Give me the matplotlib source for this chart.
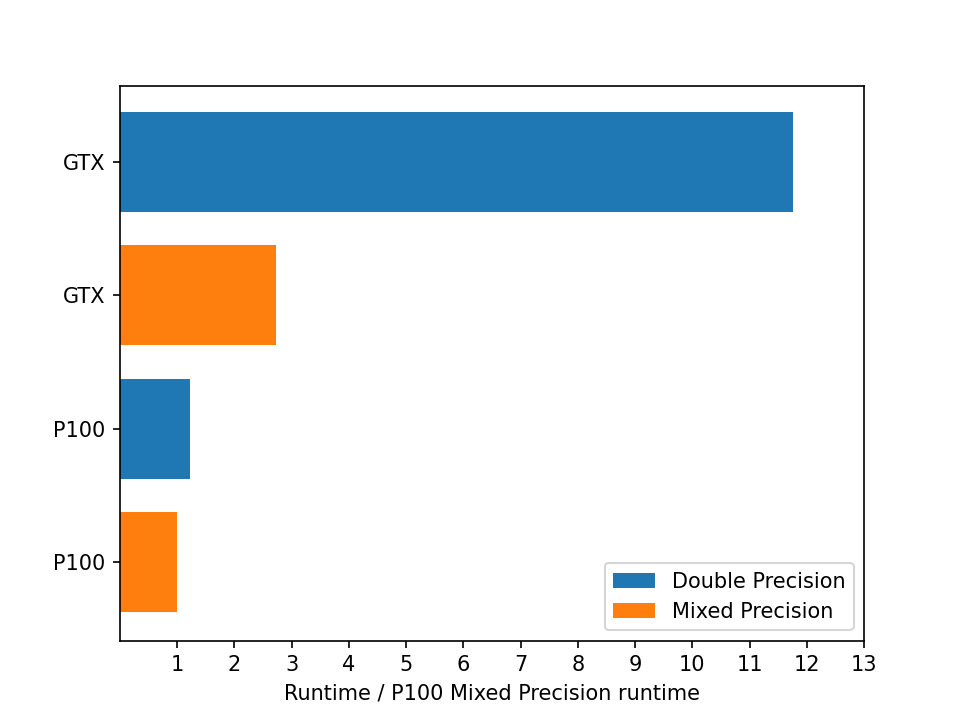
import matplotlib
matplotlib.use("Agg")
import matplotlib.pyplot as plt
import numpy as np

labels = ["P100", "P100", "GTX", "GTX"]
values = [1.0, 1.22, 2.73, 11.76]
kinds = ["Mixed Precision", "Double Precision", "Mixed Precision", "Double Precision"]
xticks = list(range(1, 14))

colors = {"Double Precision": "#1f77b4", "Mixed Precision": "#ff7f0e"}

fig, ax = plt.subplots(figsize=(6.4, 4.8), dpi=150)
ypos = np.arange(len(values))
ax.barh(ypos, values, height=0.75, color=[colors[k] for k in kinds])

# legend handles
for k in ["Double Precision", "Mixed Precision"]:
    ax.barh([0], [0], color=colors[k], label=k)

ax.set_yticks(ypos)
ax.set_yticklabels(labels)
ax.set_xticks(xticks)
ax.set_xlim(0, 13)
ax.set_xlabel("Runtime / P100 Mixed Precision runtime")
ax.legend(loc="lower right")

fig.savefig("out.png", dpi=150)
